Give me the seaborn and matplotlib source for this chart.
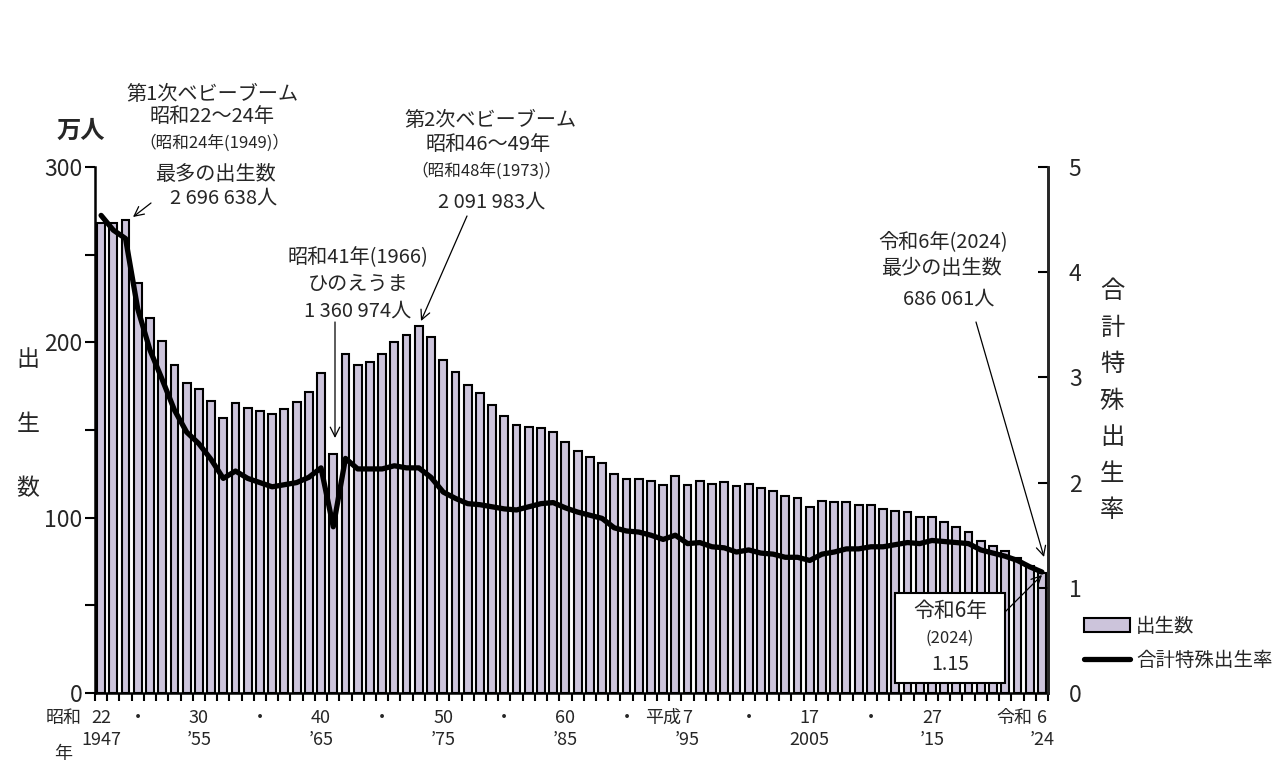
import numpy as np
import pandas as pd
import matplotlib
matplotlib.use("Agg")
import matplotlib.pyplot as plt
import matplotlib.transforms as mtransforms
from matplotlib.patches import Patch, Rectangle, FancyArrowPatch
from matplotlib.lines import Line2D
import seaborn as sns

# ---------------- data ----------------
years = list(range(1947, 2025))
births = [267.9, 268.2, 269.7, 233.8, 213.8, 200.5, 186.8, 177.0, 173.1, 166.5,
          156.7, 165.3, 162.6, 160.6, 158.9, 161.9, 166.0, 171.7, 182.4, 136.1,
          193.6, 187.2, 188.9, 193.4, 200.1, 203.9, 209.2, 203.0, 190.1, 183.3,
          175.5, 170.9, 164.3, 157.7, 152.9, 151.5, 150.9, 149.0, 143.2, 138.3,
          134.7, 131.4, 124.7, 122.2, 122.3, 120.9, 118.8, 123.8, 118.7, 120.7,
          119.2, 120.3, 117.8, 119.1, 117.1, 115.4, 112.4, 111.1, 106.3, 109.3,
          109.0, 109.1, 107.0, 107.1, 105.1, 103.7, 103.0, 100.4, 100.6, 97.7,
          94.6, 91.8, 86.5, 84.1, 81.2, 77.1, 72.7, 68.6]
tfr = [4.54, 4.40, 4.32, 3.65, 3.26, 2.98, 2.69, 2.48, 2.37, 2.22,
       2.04, 2.11, 2.04, 2.00, 1.96, 1.98, 2.00, 2.05, 2.14, 1.58,
       2.23, 2.13, 2.13, 2.13, 2.16, 2.14, 2.14, 2.05, 1.91, 1.85,
       1.80, 1.79, 1.77, 1.75, 1.74, 1.77, 1.80, 1.81, 1.76, 1.72,
       1.69, 1.66, 1.57, 1.54, 1.53, 1.50, 1.46, 1.50, 1.42, 1.43,
       1.39, 1.38, 1.34, 1.36, 1.33, 1.32, 1.29, 1.29, 1.26, 1.32,
       1.34, 1.37, 1.37, 1.39, 1.39, 1.41, 1.43, 1.42, 1.45, 1.44,
       1.43, 1.42, 1.36, 1.33, 1.30, 1.26, 1.20, 1.15]

era_row1 = [(1947, "22"), (1950, "・"), (1955, "30"), (1960, "・"), (1965, "40"),
            (1970, "・"), (1975, "50"), (1980, "・"), (1985, "60"), (1990, "・"),
            (1995, "7"), (2000, "・"), (2005, "17"), (2010, "・"), (2015, "27"),
            (2024, "6")]
era_row2 = [(1947, "1947"), (1955, "’55"), (1965, "’65"), (1975, "’75"),
            (1985, "’85"), (1995, "’95"), (2005, "2005"), (2015, "’15"),
            (2024, "’24")]
left_ticks = [0, 100, 200, 300]
right_ticks = [0, 1, 2, 3, 4, 5]

# ---------------- style ----------------
sns.set_style("ticks")
plt.rcParams['font.family'] = ['Noto Sans CJK JP', 'DejaVu Sans']
BAR = "#CCC4DB"
FS = 14.5      # annotation text
FS_S = 12      # small annotation text
FS_X = 13      # x labels

W, H = 1288, 784
fig = plt.figure(figsize=(W / 100, H / 100), dpi=100)
ax = fig.add_axes([95 / W, 1 - 693 / H, (1048 - 95) / W, (693 - 167) / H])

df = pd.DataFrame({"year": [str(y) for y in years], "births": births})
sns.barplot(data=df, x="year", y="births", color=BAR, saturation=1,
            edgecolor="black", linewidth=1.5, width=0.64, ax=ax)
ax.set_xlim(-0.5, len(years) - 0.5)
ax.set_ylim(0, 300)
ax.set_xlabel("")
ax.set_ylabel("")
ax.set_yticks(left_ticks)
ax.set_yticks([50, 150, 250], minor=True)
ax.tick_params(axis="y", which="both", direction="out", length=7, width=1.5,
               labelsize=16.5, pad=2, color="black")
ax.set_xticks([])
ax.set_xticks(np.arange(-0.5, len(years), 1.0), minor=True)
ax.tick_params(axis="x", which="minor", direction="out", length=6, width=1.5,
               color="black")
for s in ["left", "bottom", "right"]:
    ax.spines[s].set_linewidth(1.8)
    ax.spines[s].set_color("black")
ax.spines["top"].set_visible(False)

ax2 = ax.twinx()
sns.lineplot(x=np.arange(len(years)), y=tfr, ax=ax2, color="black", linewidth=3.8)
ax2.set_ylim(0, 5)
ax2.set_yticks(right_ticks)
ax2.tick_params(axis="y", direction="in", length=7, width=1.5, labelsize=16.5,
                pad=15, color="black")
ax2.spines["top"].set_visible(False)
ax2.spines["right"].set_linewidth(1.8)
ax2.spines["left"].set_visible(False)
ax2.spines["bottom"].set_visible(False)
ax2.set_xlim(-0.5, len(years) - 0.5)

# ---------------- x labels ----------------
trans = mtransforms.blended_transform_factory(ax.transData, fig.transFigure)
def yf(ypix):
    return 1 - ypix / H
for yr, lab in era_row1:
    ax.text(yr - 1947, yf(718), lab, transform=trans, ha="center", va="center",
            fontsize=FS_X)
for yr, lab in era_row2:
    ax.text(yr - 1947, yf(740), lab, transform=trans, ha="center", va="center",
            fontsize=FS_X)
ax.text(1995 - 1947 - 0.55, yf(718), "平成", transform=trans, ha="right",
        va="center", fontsize=FS_X)
ax.text(2024 - 1947 - 0.75, yf(718), "令和", transform=trans, ha="right",
        va="center", fontsize=FS_X)
fig.text(64 / W, yf(718), "昭和", ha="center", va="center", fontsize=FS_X)
fig.text(63 / W, yf(754), "年", ha="center", va="center", fontsize=FS_X)

# ---------------- axis titles ----------------
fig.text(81 / W, yf(131), "万人", ha="center", va="center", fontsize=17.5,
         fontweight="bold")
for ch, yp in zip("出生数", [360, 425, 489]):
    fig.text(28 / W, yf(yp), ch, ha="center", va="center", fontsize=16.5)
for i, ch in enumerate("合計特殊出生率"):
    fig.text(1112 / W, yf(291 + i * 36.5), ch, ha="center", va="center",
             fontsize=17.5)

# ---------------- annotations ----------------
def txt(x, y, s, size=FS):
    fig.text(x / W, yf(y), s, ha="center", va="center", fontsize=size)

def arrow(x0, y0, x1, y1):
    fig.add_artist(FancyArrowPatch(
        (x0 / W, yf(y0)), (x1 / W, yf(y1)), transform=fig.transFigure,
        arrowstyle="->", mutation_scale=17, linewidth=0.9, color="black",
        shrinkA=0, shrinkB=0))

txt(212, 94, "第1次ベビーブーム")
txt(212, 116, "昭和22～24年")
txt(214, 143, "（昭和24年(1949)）", FS_S)
txt(215, 174, "最多の出生数")
txt(224, 198, "2 696 638人")
arrow(151, 203, 133, 217)

txt(358, 258, "昭和41年(1966)")
txt(358, 284, "ひのえうま")
txt(358, 311, "1 360 974人")
arrow(335, 322, 335, 438)

txt(490, 120, "第2次ベビーブーム")
txt(488, 144, "昭和46～49年")
txt(486, 171, "（昭和48年(1973)）", FS_S)
txt(492, 202, "2 091 983人")
arrow(467, 216, 421, 321)

txt(943, 242, "令和6年(2024)")
txt(941, 268, "最少の出生数")
txt(949, 299, "686 061人")
arrow(976, 322, 1044, 557)

fig.patches.append(Rectangle((895 / W, yf(683)), 110 / W, 90 / H,
                             transform=fig.transFigure, facecolor="white",
                             edgecolor="black", linewidth=1.5, zorder=5))
for s, yp, sz in [("令和6年", 611, 15), ("(2024)", 638, 12), ("1.15", 665, 14)]:
    fig.text(950 / W, yf(yp), s, ha="center", va="center", fontsize=sz, zorder=6)
arrow(1005, 612, 1042, 575)

# ---------------- legend ----------------
handles = [Patch(facecolor=BAR, edgecolor="black", linewidth=1.5),
           Line2D([0], [0], color="black", linewidth=3.8)]
fig.legend(handles, ["出生数", "合計特殊出生率"], loc="upper left",
           bbox_to_anchor=(1076 / W, yf(608)), frameon=False, fontsize=14,
           handlelength=2.4, handleheight=0.8, labelspacing=0.7,
           handletextpad=0.3, borderaxespad=0)

fig.savefig("out.png", dpi=100)
